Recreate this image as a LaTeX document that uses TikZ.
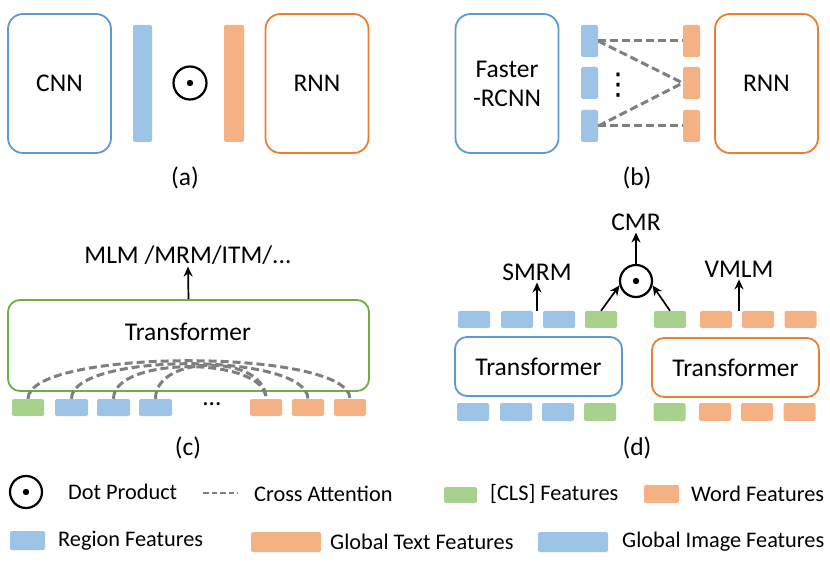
\documentclass[tikz,border=0pt]{standalone}
\usepackage{fontspec}
\setmainfont{Carlito}
\newfontfamily\symfont{DejaVu Sans}
\usepackage{tikz}
\usetikzlibrary{positioning, shapes.geometric, arrows.meta}
\definecolor{blueline}{RGB}{91,155,213}
\definecolor{orangeline}{RGB}{237,125,49}
\definecolor{greenline}{RGB}{112,173,71}
\definecolor{bluefill}{RGB}{157,195,230}
\definecolor{orangefill}{RGB}{244,177,131}
\definecolor{greenfill}{RGB}{169,209,142}
\definecolor{dashgrey}{RGB}{127,127,127}
\newcommand{\bigtxt}{\fontsize{25.5}{29}\selectfont}
\newcommand{\legtxt}{\fontsize{22.3}{26}\selectfont}
\tikzstyle{netbox} = [rectangle, rounded corners=15pt, line width=1.8pt, fill=white, text centered, font=\bigtxt, inner sep=0pt]
\tikzstyle{cnnbox} = [netbox, draw=blueline, minimum width=103pt, minimum height=139pt]
\tikzstyle{rnnbox} = [netbox, draw=orangeline, minimum width=103pt, minimum height=139pt]
\tikzstyle{tfbox} = [netbox, rounded corners=12pt, minimum width=167pt, minimum height=59pt]
\tikzstyle{tok} = [rectangle, rounded corners=2pt, inner sep=0pt, minimum width=32pt, minimum height=17pt]
\tikzstyle{regtok} = [tok, fill=bluefill]
\tikzstyle{wordtok} = [tok, fill=orangefill]
\tikzstyle{clstok} = [tok, fill=greenfill]
\tikzstyle{dotprod} = [circle, draw=black, line width=2.2pt, minimum size=33pt, inner sep=0pt]
\tikzstyle{lbl} = [font=\bigtxt, inner sep=2pt]
\tikzstyle{legend} = [font=\legtxt, anchor=west, inner sep=0pt]
\tikzstyle{xattn} = [dashgrey, line width=3pt, dash pattern=on 8pt off 4pt]
\tikzstyle{arrow} = [line width=1.7pt,-{Stealth[length=10pt,width=9pt]}]
\begin{document}
\begin{tikzpicture}[x=1pt, y=-1pt]
    \useasboundingbox (0,0) rectangle (830,569);

    % (a)
    \node[cnnbox]                                   (cnn)    at (59.5,83.5)  {CNN};
    \node[tok, fill=bluefill, minimum width=19pt, minimum height=117pt]   (imgvec) at (142.5,83.5) {};
    \node[dotprod]                                  (dota)   at (190,83)     {};
    \node[tok, fill=orangefill, minimum width=20pt, minimum height=117pt] (txtvec) at (234,83.5)   {};
    \node[rnnbox]                                   (rnna)   at (317,83.5)   {RNN};
    \fill (dota.center) circle (3.2pt);
    \node[lbl]                                      (capa)   at (185,178)    {(a)};

    % (b)
    \node[cnnbox, align=center]                     (frcnn)  at (507,83.5)   {Faster\\-RCNN};
    \node[regtok, minimum width=17pt, minimum height=32pt] (r1) at (589.5,41)  {};
    \node[regtok, minimum width=17pt, minimum height=32pt] (r2) at (589.5,83)  {};
    \node[regtok, minimum width=17pt, minimum height=32pt] (r3) at (589.5,126) {};
    \node[font={\symfont\fontsize{30}{32}\selectfont}] (vd) at (618,85)     {⋮};
    \node[wordtok, minimum width=17pt, minimum height=32pt] (w1) at (691.5,41)  {};
    \node[wordtok, minimum width=17pt, minimum height=32pt] (w2) at (691.5,83)  {};
    \node[wordtok, minimum width=17pt, minimum height=32pt] (w3) at (691.5,126) {};
    \node[rnnbox]                                   (rnnb)   at (766.5,83.5) {RNN};
    \node[lbl]                                      (capb)   at (637,178)    {(b)};

    \draw[xattn] (r1.east) -- (w1.west);
    \draw[xattn] (r1.east) -- (w2.west);
    \draw[xattn] (r3.east) -- (w2.west);
    \draw[xattn] (r3.east) -- (w3.west);

    % (c)
    \node[lbl]                                      (mlm)    at (188,255)    {MLM /MRM/ITM/...};
    \node[tfbox, draw=greenline, minimum width=361pt, minimum height=91pt] (tfc) at (188.5,345.5) {};
    \node[font=\bigtxt]                             (tfctxt) at (188,332)    {Transformer};
    \node[clstok]                                   (c0)     at (28,407.5)   {};
    \node[regtok, minimum width=33pt]               (c1)     at (71.5,407.5) {};
    \node[regtok, minimum width=33pt]               (c2)     at (113.5,407.5) {};
    \node[regtok, minimum width=33pt]               (c3)     at (155.5,407.5) {};
    \node[font=\bigtxt]                             (cdots)  at (212,404)    {…};
    \node[wordtok]                                  (c4)     at (266,407.5)  {};
    \node[wordtok]                                  (c5)     at (308,407.5)  {};
    \node[wordtok]                                  (c6)     at (350,407.5)  {};
    \node[lbl]                                      (capc)   at (188,448)    {(c)};

    \draw[arrow] (tfc.north) -- (mlm.south);
    \draw[xattn] (c0.north) .. controls (28,348) and (350,348) .. (c6.north);
    \draw[xattn] (c1.north) .. controls (71,352) and (307,352) .. (c5.north);
    \draw[xattn] (c2.north) .. controls (113,356) and (266,356) .. (c4.north);
    \draw[xattn] (c3.north) .. controls (155,354) and (266,354) .. (c4.north);

    % (d)
    \node[lbl]                                      (cmr)    at (636,222)    {CMR};
    \node[dotprod, minimum size=32pt]               (dotd)   at (636,281)    {};
    \fill (dotd.center) circle (3.2pt);
    \node[lbl]                                      (smrm)   at (537,272)    {SMRM};
    \node[lbl]                                      (vmlm)   at (739,269)    {VMLM};

    \node[regtok]                                   (t1)     at (474,319.5)  {};
    \node[regtok]                                   (t2)     at (517,319.5)  {};
    \node[regtok]                                   (t3)     at (559,319.5)  {};
    \node[clstok]                                   (t4)     at (601,319.5)  {};
    \node[clstok]                                   (t5)     at (670,319.5)  {};
    \node[wordtok]                                  (t6)     at (716,319.5)  {};
    \node[wordtok]                                  (t7)     at (758,319.5)  {};
    \node[wordtok]                                  (t8)     at (800.5,319.5) {};

    \node[tfbox, draw=blueline]                     (tfl)    at (538.5,366.5) {Transformer};
    \node[tfbox, draw=orangeline]                   (tfr)    at (735.5,367.5) {Transformer};

    \node[regtok, minimum height=18pt]              (b1)     at (473,412)    {};
    \node[regtok, minimum height=18pt]              (b2)     at (516,412)    {};
    \node[regtok, minimum height=18pt]              (b3)     at (558,412)    {};
    \node[clstok, minimum height=18pt]              (b4)     at (600,412)    {};
    \node[clstok, minimum height=18pt]              (b5)     at (669.5,412)  {};
    \node[wordtok, minimum height=18pt]             (b6)     at (715,412)    {};
    \node[wordtok, minimum height=18pt]             (b7)     at (757,412)    {};
    \node[wordtok, minimum height=18pt]             (b8)     at (799.5,412)  {};
    \node[lbl]                                      (capd)   at (637,448)    {(d)};

    \coordinate (smrmfoot) at (537,311);
    \coordinate (vmlmfoot) at (739,311);
    \draw[arrow] (dotd.north) -- (cmr.south);
    \draw[arrow] (t4.north)   -- (dotd.195);
    \draw[arrow] (t5.north)   -- (dotd.-15);
    \draw[arrow] (smrmfoot)   -- (smrm.south);
    \draw[arrow] (vmlmfoot)   -- (vmlm.south);

    % legend
    \node[dotprod, minimum size=32pt]               (ldot)   at (26,492)     {};
    \fill (ldot.center) circle (3.2pt);
    \node[legend]                                   (ldottx) at (68,492)     {Dot Product};
    \coordinate (ldash1) at (203,493);
    \coordinate (ldash2) at (238,493);
    \draw[xattn, line width=2.2pt, dash pattern=on 5.5pt off 3pt] (ldash1) -- (ldash2);
    \node[legend]                                   (lxatt)  at (254,494)    {Cross Attention};
    \node[clstok, minimum width=33pt, minimum height=16pt] (lcls) at (460.5,495) {};
    \node[legend]                                   (lclstx) at (490,494)    {[CLS] Features};
    \node[wordtok, minimum width=35pt, minimum height=18pt] (lword) at (661.5,494) {};
    \node[legend]                                   (lwordtx) at (691,494)   {Word Features};
    \node[regtok, minimum width=35pt, minimum height=19pt] (lreg) at (27.5,540.5) {};
    \node[legend]                                   (lregtx) at (58,541)     {Region Features};
    \node[wordtok, minimum width=70pt, minimum height=20pt] (lgtxt) at (286,542) {};
    \node[legend]                                   (lgtxttx) at (330,542)   {Global Text Features};
    \node[regtok, minimum width=70pt, minimum height=20pt] (lgimg) at (573,542) {};
    \node[legend]                                   (lgimgtx) at (622,542)   {Global Image Features};
\end{tikzpicture}
\end{document}
